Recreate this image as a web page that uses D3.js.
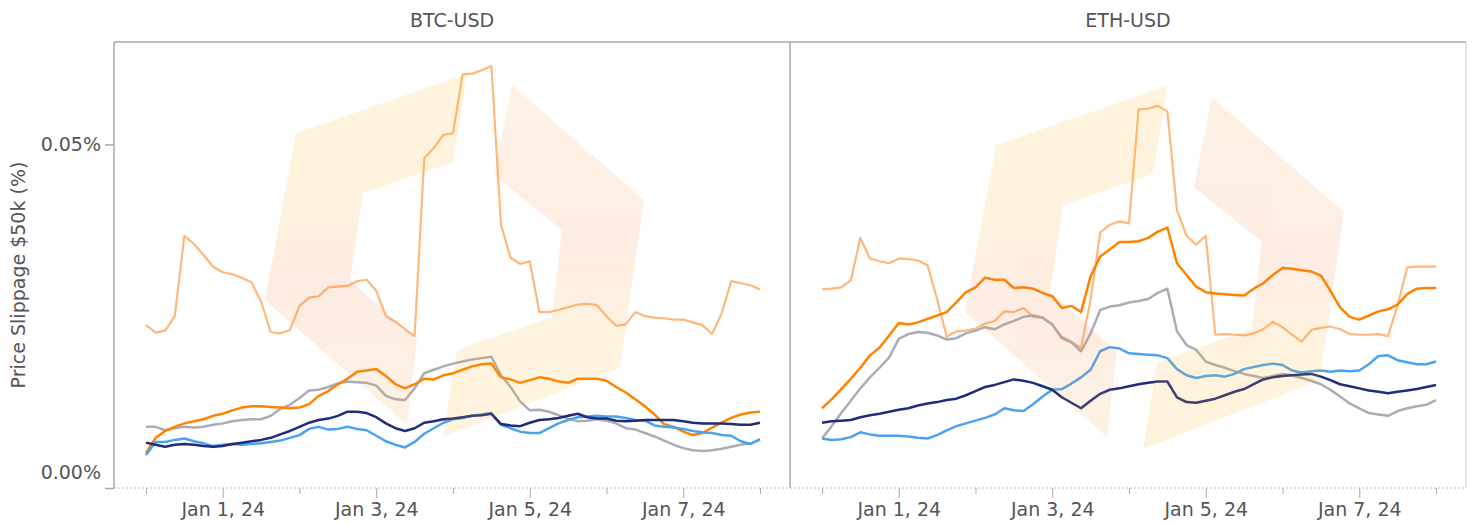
<!DOCTYPE html>
<html>
<head>
<meta charset="utf-8">
<script src="https://cdn.jsdelivr.net/npm/d3@7"></script>
<style>
  body { margin: 0; background: #fff; }
  svg { font-family: "DejaVu Sans", sans-serif; }
</style>
</head>
<body>
<script>
// one value every 3 hours, Dec 31 2023 00:00 UTC -> Jan 8 2024 00:00 UTC (slippage in %)
const startTime = Date.UTC(2023, 11, 31);
const stepHours = 3;

const pairs = ["BTC-USD", "ETH-USD"];
const seriesKeys = ["lightOrange", "gray", "orange", "lightBlue", "navy"];
const seriesColors = ["#ffb87c", "#a9adb5", "#ff8200", "#4ba2ee", "#1f2b7c"];

const btcLightOrange = [0.0237,0.0226,0.0229,0.0250,0.0367,0.0355,0.0339,0.0322,0.0314,0.0311,0.0306,0.0299,0.0271,0.0227,0.0225,0.0230,0.0265,0.0277,0.0279,0.0292,0.0293,0.0294,0.0301,0.0303,0.0287,0.0250,0.0242,0.0231,0.0221,0.0480,0.0495,0.0514,0.0516,0.0602,0.0603,0.0608,0.0614,0.0383,0.0335,0.0326,0.0330,0.0256,0.0256,0.0259,0.0263,0.0267,0.0268,0.0266,0.0250,0.0236,0.0238,0.0256,0.0250,0.0248,0.0247,0.0245,0.0245,0.0241,0.0237,0.0224,0.0254,0.0301,0.0298,0.0295,0.0289];
const btcOrange = [0.0051,0.0073,0.0083,0.0089,0.0094,0.0097,0.0100,0.0105,0.0108,0.0113,0.0117,0.0119,0.0119,0.0118,0.0117,0.0116,0.0117,0.0122,0.0134,0.0141,0.0151,0.0159,0.0169,0.0171,0.0173,0.0163,0.0151,0.0145,0.0151,0.0159,0.0158,0.0164,0.0167,0.0172,0.0177,0.0180,0.0181,0.0161,0.0158,0.0153,0.0157,0.0161,0.0159,0.0155,0.0153,0.0159,0.0159,0.0159,0.0156,0.0147,0.0139,0.0129,0.0119,0.0107,0.0093,0.0089,0.0082,0.0077,0.0080,0.0088,0.0095,0.0102,0.0107,0.0110,0.0111];
const btcGray = [0.0089,0.0089,0.0084,0.0087,0.0089,0.0088,0.0089,0.0092,0.0094,0.0097,0.0099,0.0100,0.0100,0.0105,0.0115,0.0121,0.0131,0.0142,0.0143,0.0147,0.0152,0.0155,0.0154,0.0153,0.0149,0.0134,0.0129,0.0128,0.0145,0.0167,0.0172,0.0177,0.0181,0.0184,0.0187,0.0189,0.0191,0.0164,0.0147,0.0126,0.0113,0.0114,0.0111,0.0106,0.0101,0.0097,0.0098,0.0100,0.0098,0.0094,0.0087,0.0085,0.0080,0.0075,0.0069,0.0063,0.0058,0.0055,0.0054,0.0055,0.0057,0.0060,0.0063,0.0065,0.0070];
const btcLightBlue = [0.0048,0.0067,0.0067,0.0070,0.0072,0.0068,0.0065,0.0061,0.0063,0.0064,0.0063,0.0064,0.0065,0.0067,0.0069,0.0073,0.0077,0.0086,0.0089,0.0085,0.0086,0.0089,0.0086,0.0084,0.0076,0.0068,0.0063,0.0059,0.0067,0.0079,0.0087,0.0095,0.0100,0.0102,0.0105,0.0107,0.0109,0.0092,0.0087,0.0082,0.0080,0.0080,0.0087,0.0094,0.0099,0.0103,0.0104,0.0105,0.0104,0.0104,0.0102,0.0099,0.0098,0.0091,0.0089,0.0088,0.0086,0.0083,0.0081,0.0080,0.0077,0.0076,0.0068,0.0064,0.0071];
const btcNavy = [0.0066,0.0063,0.0060,0.0063,0.0064,0.0063,0.0061,0.0060,0.0061,0.0064,0.0066,0.0068,0.0070,0.0073,0.0078,0.0083,0.0089,0.0095,0.0099,0.0101,0.0105,0.0111,0.0111,0.0109,0.0103,0.0094,0.0087,0.0083,0.0087,0.0095,0.0097,0.0100,0.0101,0.0103,0.0105,0.0106,0.0108,0.0093,0.0091,0.0090,0.0095,0.0099,0.0100,0.0102,0.0105,0.0108,0.0103,0.0101,0.0101,0.0098,0.0097,0.0098,0.0099,0.0099,0.0099,0.0099,0.0097,0.0095,0.0094,0.0094,0.0094,0.0093,0.0092,0.0092,0.0095];

const ethLightOrange = [0.0289,0.0290,0.0292,0.0302,0.0364,0.0334,0.0330,0.0327,0.0334,0.0333,0.0331,0.0324,0.0275,0.0220,0.0228,0.0229,0.0232,0.0239,0.0243,0.0257,0.0256,0.0262,0.0249,0.0247,0.0238,0.0220,0.0213,0.0204,0.0274,0.0372,0.0383,0.0388,0.0385,0.0551,0.0552,0.0556,0.0548,0.0404,0.0367,0.0354,0.0367,0.0223,0.0224,0.0223,0.0222,0.0225,0.0231,0.0242,0.0234,0.0223,0.0213,0.0230,0.0233,0.0235,0.0231,0.0224,0.0223,0.0223,0.0224,0.0221,0.0266,0.0321,0.0322,0.0322,0.0322];
const ethOrange = [0.0116,0.0129,0.0144,0.0159,0.0175,0.0193,0.0204,0.0222,0.0240,0.0238,0.0241,0.0246,0.0251,0.0256,0.0270,0.0285,0.0292,0.0306,0.0303,0.0303,0.0291,0.0292,0.0290,0.0284,0.0279,0.0262,0.0265,0.0256,0.0308,0.0337,0.0347,0.0358,0.0358,0.0359,0.0364,0.0373,0.0379,0.0327,0.0310,0.0293,0.0285,0.0283,0.0282,0.0281,0.0280,0.0290,0.0298,0.0310,0.0320,0.0319,0.0317,0.0315,0.0309,0.0287,0.0263,0.0249,0.0245,0.0251,0.0257,0.0260,0.0267,0.0282,0.0290,0.0291,0.0291];
const ethGray = [0.0072,0.0090,0.0109,0.0127,0.0145,0.0161,0.0175,0.0190,0.0217,0.0224,0.0227,0.0226,0.0222,0.0216,0.0218,0.0225,0.0229,0.0234,0.0231,0.0238,0.0243,0.0249,0.0251,0.0248,0.0238,0.0218,0.0212,0.0199,0.0225,0.0259,0.0264,0.0266,0.0270,0.0272,0.0275,0.0284,0.0290,0.0228,0.0208,0.0201,0.0184,0.0179,0.0175,0.0170,0.0166,0.0163,0.0160,0.0163,0.0166,0.0164,0.0160,0.0156,0.0151,0.0143,0.0133,0.0123,0.0116,0.0109,0.0107,0.0105,0.0112,0.0116,0.0119,0.0121,0.0128];
const ethLightBlue = [0.0072,0.0070,0.0071,0.0074,0.0081,0.0078,0.0076,0.0076,0.0076,0.0075,0.0073,0.0072,0.0077,0.0084,0.0090,0.0094,0.0098,0.0102,0.0107,0.0116,0.0113,0.0112,0.0122,0.0133,0.0143,0.0144,0.0152,0.0161,0.0172,0.0199,0.0205,0.0203,0.0196,0.0195,0.0194,0.0193,0.0189,0.0173,0.0164,0.0160,0.0163,0.0164,0.0162,0.0166,0.0173,0.0176,0.0179,0.0181,0.0179,0.0171,0.0168,0.0170,0.0171,0.0169,0.0171,0.0170,0.0171,0.0180,0.0192,0.0193,0.0186,0.0183,0.0180,0.0180,0.0184];
const ethNavy = [0.0095,0.0097,0.0098,0.0099,0.0103,0.0106,0.0108,0.0111,0.0114,0.0116,0.0120,0.0123,0.0125,0.0128,0.0130,0.0135,0.0141,0.0147,0.0150,0.0154,0.0158,0.0156,0.0153,0.0148,0.0143,0.0132,0.0124,0.0116,0.0127,0.0137,0.0143,0.0145,0.0148,0.0151,0.0153,0.0155,0.0155,0.0132,0.0125,0.0124,0.0127,0.0130,0.0135,0.0140,0.0144,0.0151,0.0158,0.0161,0.0163,0.0164,0.0165,0.0166,0.0162,0.0157,0.0151,0.0148,0.0145,0.0142,0.0140,0.0138,0.0140,0.0142,0.0144,0.0147,0.0150];

const yTickValues = [0, 0.05];
const yTitle = "Price Slippage $50k (%)";

// series per panel, drawn bottom to top in seriesKeys order
const panelSeries = [
  [btcLightOrange, btcGray, btcOrange, btcLightBlue, btcNavy],
  [ethLightOrange, ethGray, ethOrange, ethLightBlue, ethNavy]
];

const width = 1473, height = 524;
const plotLeft = 114, plotTop = 42, plotBottom = 488, panelW = 676;
const fontSize = 19;

const svg = d3.select("body").append("svg")
  .attr("width", width)
  .attr("height", height);

const toDate = i => new Date(startTime + i * stepHours * 3600 * 1000);
const endDate = toDate(btcNavy.length - 1);

const x = d3.scaleUtc()
  .domain([new Date(startTime), endDate])
  .range([32, 646]);

const y = d3.scaleLinear()
  .domain([0, 0.0649])
  .range([plotBottom, plotTop]);

const line = d3.line()
  .x((d, i) => x(toDate(i)))
  .y(d => y(d));

// watermark: two translucent brackets, relative to the panel's top-left corner
const wmLeft = [[182,91],[353,32],[339,120],[249,151],[236,238],[303,298],[293,383],[151,258]];
const wmRight = [[398,43],[530,158],[506,326],[329,395],[343,308],[438,275],[448,188],[380,133]];
const wmShift = [[0, 0], [24, 12]];

const defs = svg.append("defs");
const gradLeft = defs.append("linearGradient").attr("id", "wmGradLeft")
  .attr("x1", 0).attr("y1", 0).attr("x2", 0).attr("y2", 1);
gradLeft.append("stop").attr("offset", "0.3").attr("stop-color", "#ffb21a");
gradLeft.append("stop").attr("offset", "0.6").attr("stop-color", "#f47a3a");
gradLeft.append("stop").attr("offset", "0.9").attr("stop-color", "#f5a04a");
const gradRight = defs.append("linearGradient").attr("id", "wmGradRight")
  .attr("x1", 0).attr("y1", 0).attr("x2", 0).attr("y2", 1);
gradRight.append("stop").attr("offset", "0.1").attr("stop-color", "#f5a04a");
gradRight.append("stop").attr("offset", "0.45").attr("stop-color", "#f47a3a");
gradRight.append("stop").attr("offset", "0.75").attr("stop-color", "#ffb21a");

const xTicks = d3.utcDay.range(new Date(startTime), d3.utcDay.offset(endDate, 1));
const isMajor = d => d.getUTCMonth() === 0 && d.getUTCDate() % 2 === 1;
const fmt = d3.utcFormat("%b %-d, %y");

pairs.forEach((pair, p) => {
  const g = svg.append("g")
    .attr("transform", `translate(${plotLeft + p * panelW}, 0)`);

  // title
  svg.append("text")
    .attr("x", plotLeft + p * panelW + panelW / 2)
    .attr("y", 27)
    .attr("text-anchor", "middle")
    .style("font-size", fontSize + "px")
    .attr("fill", "#555")
    .text(pair);

  // lines
  g.selectAll("path.series")
    .data(panelSeries[p])
    .enter()
    .append("path")
    .attr("class", "series")
    .attr("d", d => line(d))
    .attr("fill", "none")
    .attr("stroke", (d, i) => seriesColors[i])
    .attr("stroke-width", (d, i) => i === 0 ? 2.2 : 2.5)
    .attr("stroke-linejoin", "round");

  // watermark on top of the lines
  const wm = g.append("g")
    .attr("transform", `translate(${wmShift[p][0]}, ${plotTop + wmShift[p][1]})`)
    .attr("opacity", 0.14);
  wm.append("path")
    .attr("d", d3.line().curve(d3.curveLinearClosed)(wmLeft))
    .attr("fill", "url(#wmGradLeft)");
  wm.append("path")
    .attr("d", d3.line().curve(d3.curveLinearClosed)(wmRight))
    .attr("fill", "url(#wmGradRight)");

  // x axis
  const xAxis = g.append("g")
    .attr("transform", `translate(0, ${plotBottom})`)
    .call(d3.axisBottom(x).tickValues(xTicks).tickFormat(d => isMajor(d) ? fmt(d) : "").tickSizeOuter(0));
  xAxis.select(".domain").remove();
  xAxis.selectAll(".tick line")
    .attr("stroke", "#aaa")
    .attr("y2", d => isMajor(d) ? 10 : 6);
  xAxis.selectAll(".tick text")
    .attr("y", 15)
    .attr("fill", "#555")
    .style("font-size", fontSize + "px")
    .attr("font-family", "DejaVu Sans");

  g.append("line")
    .attr("x1", 0).attr("x2", panelW)
    .attr("y1", plotBottom).attr("y2", plotBottom)
    .attr("stroke", "#bbb")
    .attr("stroke-dasharray", "2,2");

  // frame
  g.append("line")
    .attr("x1", 0).attr("x2", panelW)
    .attr("y1", plotTop).attr("y2", plotTop)
    .attr("stroke", "#aaa").attr("stroke-width", 1.5);
  g.append("line")
    .attr("x1", 0).attr("x2", 0)
    .attr("y1", plotTop).attr("y2", plotBottom)
    .attr("stroke", "#aaa").attr("stroke-width", 1.5);
});

svg.append("line")
  .attr("x1", plotLeft + 2 * panelW).attr("x2", plotLeft + 2 * panelW)
  .attr("y1", plotTop).attr("y2", plotBottom)
  .attr("stroke", "#ddd").attr("stroke-width", 1.5);

// y axis (left panel only)
const yAxis = svg.append("g")
  .attr("transform", `translate(${plotLeft}, 0)`)
  .call(d3.axisLeft(y).tickValues(yTickValues).tickFormat(d => d.toFixed(2) + "%").tickSize(9).tickSizeOuter(0));
yAxis.select(".domain").remove();
yAxis.selectAll(".tick line").attr("stroke", "#aaa").attr("stroke-width", 1.5);
yAxis.selectAll(".tick text")
  .attr("x", -13)
  .attr("y", d => d === 0 ? -16 : 0)
  .attr("fill", "#555")
  .style("font-size", fontSize + "px")
  .attr("font-family", "DejaVu Sans");

svg.append("text")
  .attr("transform", `translate(25, ${(plotTop + plotBottom) / 2 + 10}) rotate(-90)`)
  .attr("text-anchor", "middle")
  .attr("fill", "#555")
  .style("font-size", fontSize + "px")
  .text(yTitle);
</script>
</body>
</html>
